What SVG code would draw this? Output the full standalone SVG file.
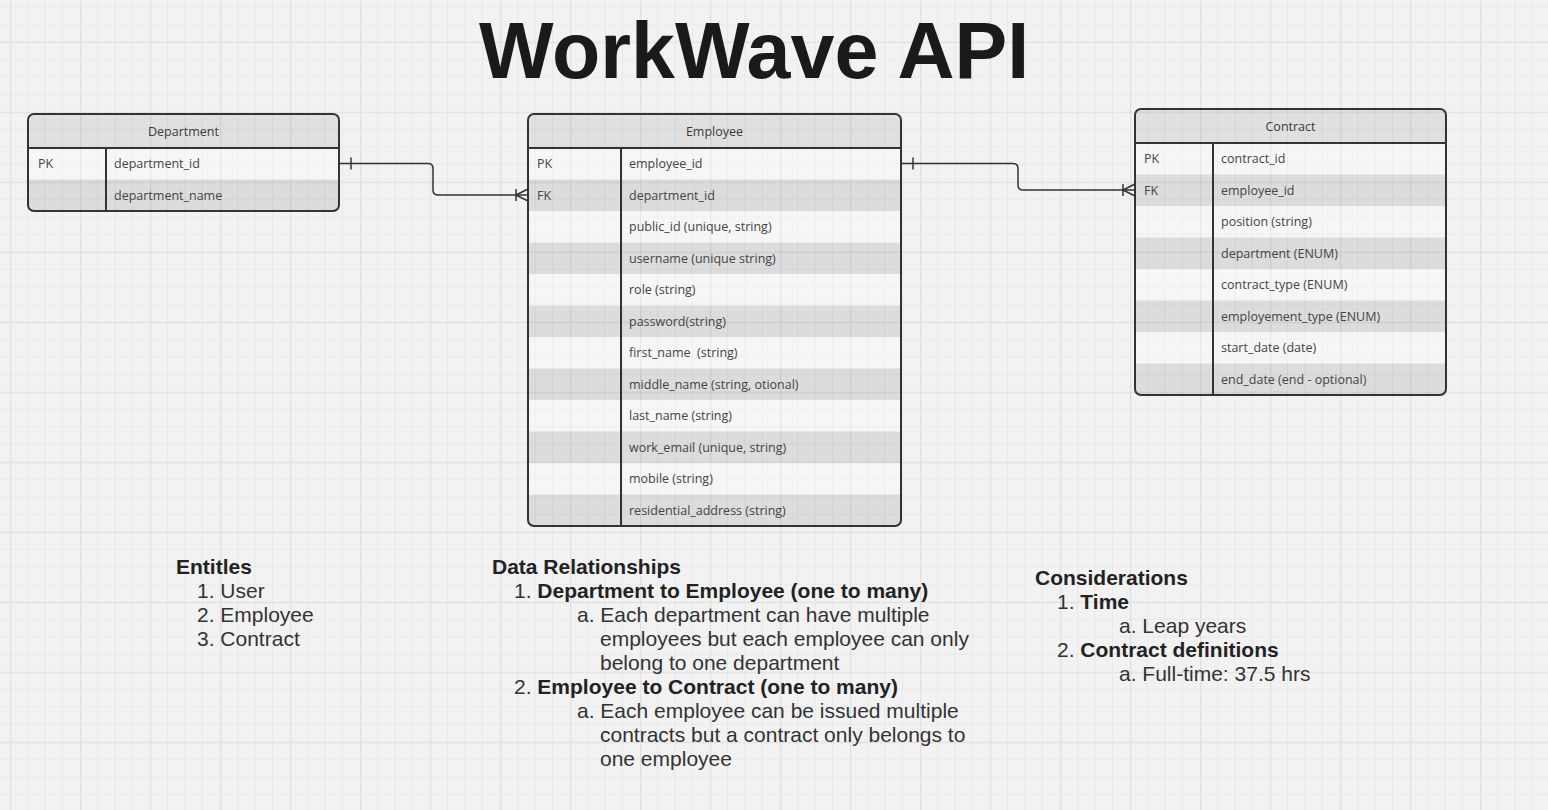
<svg xmlns="http://www.w3.org/2000/svg" width="1548" height="810" viewBox="0 0 1548 810">
<style>
.title{font-family:"Liberation Sans",Arial,sans-serif;font-weight:bold;font-size:79px;fill:#1a1a1a}
.hdr{font-family:"Open Sans","Noto Sans",sans-serif;font-size:12.5px;fill:#3a3a3a;text-anchor:middle}
.cell{font-family:"Open Sans","Noto Sans",sans-serif;font-size:12.5px;fill:#444}
.frame{fill:none;stroke:#333;stroke-width:2}
.sep{stroke:#333;stroke-width:2}
.light{fill:#ffffff;fill-opacity:0.3}
.dark{fill:#000000;fill-opacity:0.09}
.head{fill:#000000;fill-opacity:0.075}
.conn{fill:none;stroke:#333;stroke-width:1.5}
.note{font-family:"Liberation Sans",Arial,sans-serif;font-size:21px;fill:#333}
.noteh{font-family:"Liberation Sans",Arial,sans-serif;font-size:21px;font-weight:bold;fill:#222}
.b{font-weight:bold;fill:#222}
</style>
<defs>
<pattern id="grid" patternUnits="userSpaceOnUse" x="10" y="41.7" width="70" height="70">
<rect width="70" height="70" fill="#f2f2f2"/>
<path d="M17.5,0V70M35,0V70M52.5,0V70M0,17.5H70M0,35H70M0,52.5H70" stroke="#e9e9e9" stroke-width="1"/>
<path d="M0.5,0V70M0,0.5H70" stroke="#e0e0e0" stroke-width="1.5"/>
</pattern>
<clipPath id="cDep"><rect x="28" y="114" width="311" height="97" rx="6"/></clipPath>
<clipPath id="cEmp"><rect x="528" y="114" width="373" height="412" rx="6"/></clipPath>
<clipPath id="cCon"><rect x="1135" y="109" width="311" height="286" rx="6"/></clipPath>
</defs>
<rect width="1548" height="810" fill="url(#grid)"/>

<text class="title" x="754" y="78" text-anchor="middle">WorkWave API</text>

<g id="department">
<g clip-path="url(#cDep)">
<rect class="head" x="28" y="114" width="311" height="34"/>
<rect class="light" x="28" y="148" width="311" height="31.5"/>
<rect class="dark" x="28" y="179.5" width="311" height="31.5"/>
</g>
<line class="sep" x1="28" y1="148" x2="339" y2="148"/>
<line class="sep" x1="106" y1="148" x2="106" y2="211"/>
<rect class="frame" x="28" y="114" width="311" height="97" rx="6"/>
<text class="hdr" x="183.5" y="135.5">Department</text>
<text class="cell" x="38" y="168">PK</text>
<text class="cell" x="114" y="168">department_id</text>
<text class="cell" x="114" y="199.5">department_name</text>
</g>

<g id="employee">
<g clip-path="url(#cEmp)">
<rect class="head" x="528" y="114" width="373" height="34"/>
<rect class="light" x="528" y="148" width="373" height="31.5"/>
<rect class="dark" x="528" y="179.5" width="373" height="31.5"/>
<rect class="light" x="528" y="211" width="373" height="31.5"/>
<rect class="dark" x="528" y="242.5" width="373" height="31.5"/>
<rect class="light" x="528" y="274" width="373" height="31.5"/>
<rect class="dark" x="528" y="305.5" width="373" height="31.5"/>
<rect class="light" x="528" y="337" width="373" height="31.5"/>
<rect class="dark" x="528" y="368.5" width="373" height="31.5"/>
<rect class="light" x="528" y="400" width="373" height="31.5"/>
<rect class="dark" x="528" y="431.5" width="373" height="31.5"/>
<rect class="light" x="528" y="463" width="373" height="31.5"/>
<rect class="dark" x="528" y="494.5" width="373" height="31.5"/>
</g>
<line class="sep" x1="528" y1="148" x2="901" y2="148"/>
<line class="sep" x1="621" y1="148" x2="621" y2="526"/>
<rect class="frame" x="528" y="114" width="373" height="412" rx="6"/>
<text class="hdr" x="714.5" y="135.5">Employee</text>
<text class="cell" x="537" y="168">PK</text>
<text class="cell" x="537" y="199.5">FK</text>
<text class="cell" x="629" y="168">employee_id</text>
<text class="cell" x="629" y="199.5">department_id</text>
<text class="cell" x="629" y="231">public_id (unique, string)</text>
<text class="cell" x="629" y="262.5">username (unique string)</text>
<text class="cell" x="629" y="294">role (string)</text>
<text class="cell" x="629" y="325.5">password(string)</text>
<text class="cell" x="629" y="357" xml:space="preserve">first_name  (string)</text>
<text class="cell" x="629" y="388.5">middle_name (string, otional)</text>
<text class="cell" x="629" y="420">last_name (string)</text>
<text class="cell" x="629" y="451.5">work_email (unique, string)</text>
<text class="cell" x="629" y="483">mobile (string)</text>
<text class="cell" x="629" y="514.5">residential_address (string)</text>
</g>

<g id="contract">
<g clip-path="url(#cCon)">
<rect class="head" x="1135" y="109" width="311" height="34"/>
<rect class="light" x="1135" y="143" width="311" height="31.5"/>
<rect class="dark" x="1135" y="174.5" width="311" height="31.5"/>
<rect class="light" x="1135" y="206" width="311" height="31.5"/>
<rect class="dark" x="1135" y="237.5" width="311" height="31.5"/>
<rect class="light" x="1135" y="269" width="311" height="31.5"/>
<rect class="dark" x="1135" y="300.5" width="311" height="31.5"/>
<rect class="light" x="1135" y="332" width="311" height="31.5"/>
<rect class="dark" x="1135" y="363.5" width="311" height="31.5"/>
</g>
<line class="sep" x1="1135" y1="143" x2="1446" y2="143"/>
<line class="sep" x1="1213" y1="143" x2="1213" y2="395"/>
<rect class="frame" x="1135" y="109" width="311" height="286" rx="6"/>
<text class="hdr" x="1290.5" y="130.5">Contract</text>
<text class="cell" x="1144" y="163">PK</text>
<text class="cell" x="1144" y="194.5">FK</text>
<text class="cell" x="1221" y="163">contract_id</text>
<text class="cell" x="1221" y="194.5">employee_id</text>
<text class="cell" x="1221" y="226">position (string)</text>
<text class="cell" x="1221" y="257.5">department (ENUM)</text>
<text class="cell" x="1221" y="289">contract_type (ENUM)</text>
<text class="cell" x="1221" y="320.5">employement_type (ENUM)</text>
<text class="cell" x="1221" y="352">start_date (date)</text>
<text class="cell" x="1221" y="383.5">end_date (end - optional)</text>
</g>

<g id="connectors">
<path class="conn" d="M339,163.5H428Q433,163.5 433,168.5V190Q433,195 438,195H528"/>
<path class="conn" d="M351,157.5V169.5"/>
<path class="conn" d="M516,189V201M516,195L528,189M516,195L528,201"/>
<path class="conn" d="M901,163.5H1013Q1018,163.5 1018,168.5V185Q1018,190 1023,190H1135"/>
<path class="conn" d="M913,157.5V169.5"/>
<path class="conn" d="M1123,184V196M1123,190L1135,184M1123,190L1135,196"/>
</g>

<g id="entities-note">
<text class="noteh" x="176" y="574">Entitles</text>
<text class="note" x="197" y="598">1. User</text>
<text class="note" x="197" y="622">2. Employee</text>
<text class="note" x="197" y="646">3. Contract</text>
</g>

<g id="relationships-note">
<text class="noteh" x="492" y="574">Data Relationships</text>
<text class="note" x="514" y="598">1. <tspan class="b">Department to Employee (one to many)</tspan></text>
<text class="note" x="577" y="622">a. Each department can have multiple</text>
<text class="note" x="600" y="646">employees but each employee can only</text>
<text class="note" x="600" y="670">belong to one department</text>
<text class="note" x="514" y="694">2. <tspan class="b">Employee to Contract (one to many)</tspan></text>
<text class="note" x="577" y="718">a. Each employee can be issued multiple</text>
<text class="note" x="600" y="742">contracts but a contract only belongs to</text>
<text class="note" x="600" y="766">one employee</text>
</g>

<g id="considerations-note">
<text class="noteh" x="1035" y="585">Considerations</text>
<text class="note" x="1057" y="609">1. <tspan class="b">Time</tspan></text>
<text class="note" x="1119" y="633">a. Leap years</text>
<text class="note" x="1057" y="657">2. <tspan class="b">Contract definitions</tspan></text>
<text class="note" x="1119" y="681">a. Full-time: 37.5 hrs</text>
</g>
</svg>
